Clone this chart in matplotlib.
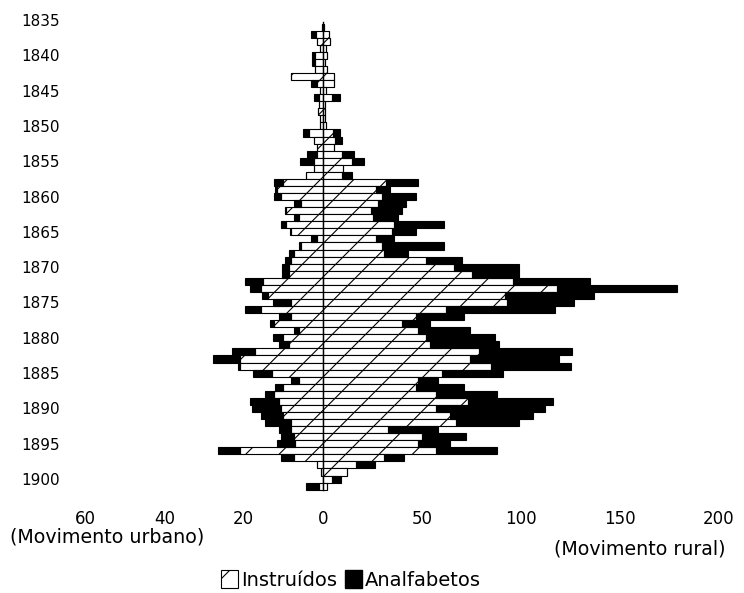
import matplotlib
matplotlib.use("Agg")
import matplotlib.pyplot as plt
from matplotlib.patches import Patch
import numpy as np

years = list(range(1836, 1902))

# Movimento urbano (left side)
urban_instruidos = [0.3, 1.8, 1.5, 0.7, 2.0, 2.0, 1.9, 8.2, 1.5, 0.8,
                    1.1, 1.0, 1.2, 0.8, 0.8, 3.6, 2.3, 1.5, 1.5, 2.3,
                    2.3, 4.3, 10.2, 11.5, 10.6, 5.6, 9.3, 6.0, 9.3, 8.0,
                    1.4, 5.5, 7.25, 8.1, 8.5, 8.7, 15.2, 15.6, 14.0, 8.1,
                    15.6, 8.1, 12.25, 6.0, 10.2, 8.5, 17.25, 21.0, 21.0, 13.0,
                    6.0, 10.0, 12.25, 11.0, 10.5, 10.2, 8.0, 8.0, 7.25, 7.0,
                    21.0, 7.25, 1.4, 0.6, 0.0, 1.0]
urban_analfabetos = [0.0, 1.2, 0.0, 0.0, 0.75, 0.75, 0.0, 0.0, 1.5, 0.0,
                     1.25, 0.0, 0.0, 0.0, 0.0, 1.5, 0.0, 0.0, 2.5, 3.5,
                     0.0, 0.0, 2.3, 0.5, 1.9, 1.7, 0.3, 1.3, 1.3, 0.3,
                     1.7, 0.5, 1.25, 1.4, 1.8, 1.7, 4.6, 2.9, 1.5, 4.6,
                     4.2, 2.9, 1.1, 1.25, 2.5, 2.5, 5.8, 6.7, 0.5, 4.6,
                     2.0, 2.0, 2.5, 7.5, 7.5, 5.4, 6.7, 3.0, 3.3, 4.5,
                     5.4, 3.3, 0.0, 0.0, 0.0, 3.3]

# Movimento rural (right side)
rural_instruidos = [0.5, 2.9, 3.7, 1.5, 2.0, 1.2, 2.0, 5.4, 5.4, 1.5,
                    4.5, 1.2, 1.0, 1.0, 1.5, 5.2, 6.2, 5.4, 9.6, 14.6,
                    10.0, 9.8, 32.0, 27.0, 30.0, 28.0, 24.0, 25.0, 36.0, 35.0,
                    27.0, 30.0, 31.0, 52.0, 66.0, 75.0, 96.0, 118.0, 92.0, 93.0,
                    62.0, 47.0, 40.0, 48.0, 52.0, 54.0, 79.0, 74.0, 85.0, 60.0,
                    48.0, 47.0, 57.0, 73.0, 57.0, 64.0, 67.0, 33.0, 50.0, 48.0,
                    57.0, 31.0, 16.5, 12.0, 4.7, 2.2]
rural_analfabetos = [0.0, 0.0, 0.0, 0.0, 0.0, 0.0, 0.0, 0.0, 0.0, 0.0,
                     3.9, 0.0, 0.0, 0.0, 0.0, 3.2, 3.4, 0.0, 5.9, 6.2,
                     0.0, 4.7, 16.0, 7.0, 17.0, 14.0, 16.0, 13.0, 25.0, 12.0,
                     9.0, 31.0, 12.0, 18.0, 33.0, 24.0, 39.0, 61.0, 45.0, 34.0,
                     55.0, 24.0, 14.0, 26.0, 35.0, 35.0, 47.0, 45.0, 40.0, 31.0,
                     10.0, 24.0, 31.0, 43.0, 55.0, 42.0, 32.0, 25.0, 22.0, 16.0,
                     31.0, 10.0, 10.0, 0.0, 4.2, 0.0]

ytick_years = list(range(1835, 1901, 5))
xtick_labels = ["60", "40", "20", "0", "50", "100", "150", "200"]
urban_tick_values = [60, 40, 20]
rural_tick_values = [0, 50, 100, 150, 200]
URBAN_SCALE = 2.0  # urban side drawn at twice the scale of the rural side

W, H = 744, 593
fig = plt.figure(figsize=(W / 100, H / 100), dpi=100)
plt.rcParams['hatch.linewidth'] = 0.8

px_per_unit = 1.98
zero_px = 323
L_px, R_px = 64, 730
top_px = 12.94
bottom_px = top_px + 68 * 7.062
ax = fig.add_axes([L_px / W, 1 - bottom_px / H, (R_px - L_px) / W, (bottom_px - top_px) / H])
ax.set_xlim((L_px - zero_px) / px_per_unit, (R_px - zero_px) / px_per_unit)
ax.set_ylim(1902, 1834)

y = np.array(years)
uh = -URBAN_SCALE * np.array(urban_instruidos)
ua = -URBAN_SCALE * np.array(urban_analfabetos)
rh = np.array(rural_instruidos)
ra = np.array(rural_analfabetos)

kw = dict(height=1.0, edgecolor='black', linewidth=0.8)
ax.barh(y, uh, facecolor='white', hatch='/', **kw)
ax.barh(y, ua, left=uh, facecolor='black', **kw)
ax.barh(y, rh, facecolor='white', hatch='/', **kw)
ax.barh(y, ra, left=rh, facecolor='black', **kw)

ax.plot([0, 0], [1835.3, 1901.5], color='black', lw=1.0)

for s in ax.spines.values():
    s.set_visible(False)

ax.set_yticks(ytick_years)
ax.set_yticklabels([str(v) for v in ytick_years], fontsize=11, fontfamily='DejaVu Sans')
xt = [-URBAN_SCALE * v for v in urban_tick_values] + rural_tick_values
ax.set_xticks(xt)
ax.set_xticklabels(xtick_labels, fontsize=12, fontfamily='DejaVu Sans')
ax.tick_params(axis='y', length=0, pad=3)
ax.tick_params(axis='x', length=0, pad=12)

fig.text(107 / W, 1 - 537 / H, "(Movimento urbano)", ha='center', va='center',
         fontsize=13.7, fontfamily='DejaVu Sans')
fig.text(640 / W, 1 - 549 / H, "(Movimento rural)", ha='center', va='center',
         fontsize=13.7, fontfamily='DejaVu Sans')

handles = [Patch(facecolor='white', edgecolor='black', hatch='/', linewidth=0.8),
           Patch(facecolor='black', edgecolor='black')]
fig.legend(handles, ["Instruídos", "Analfabetos"], loc='center',
           bbox_to_anchor=(351 / W, 1 - 580 / H), ncol=2, frameon=False,
           fontsize=14, handlelength=0.9, handleheight=1.0,
           handletextpad=0.15, columnspacing=0.4, borderpad=0,
           prop={'family': 'DejaVu Sans', 'size': 14})

fig.savefig("out.png", dpi=100)
